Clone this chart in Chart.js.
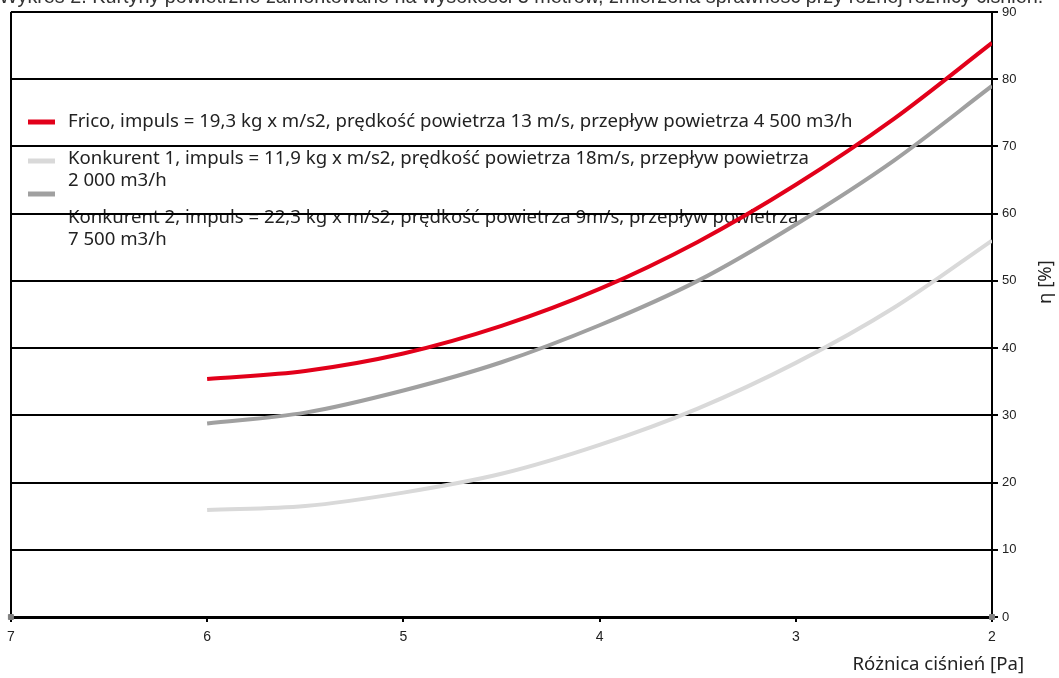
<!DOCTYPE html>
<html>
<head>
<meta charset="utf-8">
<script src="https://cdn.jsdelivr.net/npm/chart.js@4/dist/chart.umd.min.js"></script>
<style>
  html, body { margin: 0; padding: 0; background: #fff; }
  #wrap { width: 1059px; height: 678px; }
</style>
</head>
<body>
<div id="wrap"><canvas id="effChart"></canvas></div>
<script>
// roznica cisnien [Pa] - punkty krzywych
const pressure = [6, 5.5, 5, 4.5, 4, 3.5, 3, 2.5, 2];
const fricoEff = [35.4, 36.6, 39.2, 43.3, 48.8, 55.8, 64.3, 74.1, 85.4];
const konk1Eff = [15.9, 16.5, 18.5, 21.3, 25.6, 31.0, 37.8, 46.0, 56.0];
const konk2Eff = [28.8, 30.4, 33.7, 37.9, 43.4, 50.0, 58.4, 67.9, 79.0];

const xTicks = [7, 6, 5, 4, 3, 2];
const yTicks = [0, 10, 20, 30, 40, 50, 60, 70, 80, 90];
const axisEnds = [7, 2];

const chartTitle = 'Wykres 2. Kurtyny powietrzne zamontowane na wysokości 3 metrów, zmierzona sprawność przy różnej różnicy ciśnień.';
const xTitle = 'Różnica ciśnień [Pa]';
const yTitle = 'η [%]';

const seriesLabels = [
  ['Frico, impuls = 19,3 kg x m/s2, prędkość powietrza 13 m/s, przepływ powietrza 4 500 m3/h'],
  ['Konkurent 1, impuls = 11,9 kg x m/s2, prędkość powietrza 18m/s, przepływ powietrza', '2 000 m3/h'],
  ['Konkurent 2, impuls = 22,3 kg x m/s2, prędkość powietrza 9m/s, przepływ powietrza', '7 500 m3/h']
];
const seriesColors = ['#e2001a', '#d9d9d9', '#a0a0a0'];

function toPoints(vals) {
  return pressure.map((p, i) => ({ x: p, y: vals[i] }));
}

// legenda, tytul i opisy osi rysowane recznie
const extraText = {
  id: 'extraText',
  beforeDraw(chart) {
    const c = chart.ctx;
    c.save();
    c.fillStyle = '#fff';
    c.fillRect(0, 0, chart.width, chart.height);

    c.fillStyle = '#333';
    c.font = '19.8px "Liberation Sans", Arial, sans-serif';
    c.textBaseline = 'alphabetic';
    c.textAlign = 'left';
    c.fillText(chartTitle, -1, 3);

    // legenda
    const swatchY = [122, 161, 194];
    const textY = [122, 159, 218];
    c.font = '18.6px "Noto Sans", "Open Sans", sans-serif';
    c.textBaseline = 'middle';
    seriesLabels.forEach((lines, i) => {
      c.strokeStyle = seriesColors[i];
      c.lineWidth = 5;
      c.beginPath();
      c.moveTo(28, swatchY[i]);
      c.lineTo(55, swatchY[i]);
      c.stroke();
      c.fillStyle = '#222';
      lines.forEach((t, j) => c.fillText(t, 68, textY[i] + j * 22));
    });
    c.restore();
  },
  afterDraw(chart) {
    const c = chart.ctx;
    c.save();
    c.fillStyle = '#222';
    c.font = '18.6px "Noto Sans", "Open Sans", sans-serif';
    c.textBaseline = 'middle';
    c.textAlign = 'right';
    c.fillText(xTitle, 1024, 665);

    c.translate(1046, 282);
    c.rotate(-Math.PI / 2);
    c.textAlign = 'center';
    c.fillText(yTitle, 0, 0);
    c.restore();
  }
};

const ctx = document.getElementById('effChart').getContext('2d');
new Chart(ctx, {
  type: 'line',
  data: {
    datasets: [
      {
        label: seriesLabels[0].join(' '),
        data: toPoints(fricoEff),
        borderColor: seriesColors[0],
        borderWidth: 4,
        pointRadius: 0,
        cubicInterpolationMode: 'monotone'
      },
      {
        label: seriesLabels[1].join(' '),
        data: toPoints(konk1Eff),
        borderColor: seriesColors[1],
        borderWidth: 4,
        pointRadius: 0,
        cubicInterpolationMode: 'monotone'
      },
      {
        label: seriesLabels[2].join(' '),
        data: toPoints(konk2Eff),
        borderColor: seriesColors[2],
        borderWidth: 4,
        pointRadius: 0,
        cubicInterpolationMode: 'monotone'
      },
      {
        label: 'axis',
        data: axisEnds.map(v => ({ x: v, y: 0 })),
        showLine: false,
        pointStyle: 'rect',
        pointRadius: 3.5,
        backgroundColor: '#7f7f7f',
        borderColor: '#7f7f7f',
        clip: false
      }
    ]
  },
  options: {
    responsive: true,
    maintainAspectRatio: false,
    animation: false,
    layout: { padding: { left: 10, top: 12, right: 0, bottom: 0 } },
    plugins: {
      legend: { display: false },
      tooltip: { enabled: false }
    },
    scales: {
      x: {
        type: 'linear',
        reverse: true,
        min: 2,
        max: 7,
        afterBuildTicks: axis => { axis.ticks = xTicks.map(v => ({ value: v })); },
        afterFit: axis => { axis.height = 61; },
        ticks: {
          color: '#222',
          padding: 7,
          font: { family: '"Liberation Sans Narrow", "Liberation Sans", Arial, sans-serif', size: 14 }
        },
        grid: {
          color: c => (c.tick && c.tick.value === 7 ? '#000' : 'rgba(0,0,0,0)'),
          tickColor: '#000',
          lineWidth: 2,
          tickLength: 5
        },
        border: { display: true, color: '#000', width: 3 }
      },
      y: {
        position: 'right',
        min: 0,
        max: 90,
        afterBuildTicks: axis => { axis.ticks = yTicks.map(v => ({ value: v })); },
        afterFit: axis => { axis.width = 67; },
        ticks: {
          color: '#222',
          padding: 4,
          font: { family: '"Liberation Sans", Arial, sans-serif', size: 13 }
        },
        grid: {
          color: '#000',
          lineWidth: 2,
          tickLength: 6
        },
        border: { display: true, color: '#000', width: 2 }
      }
    }
  },
  plugins: [extraText]
});
</script>
</body>
</html>
